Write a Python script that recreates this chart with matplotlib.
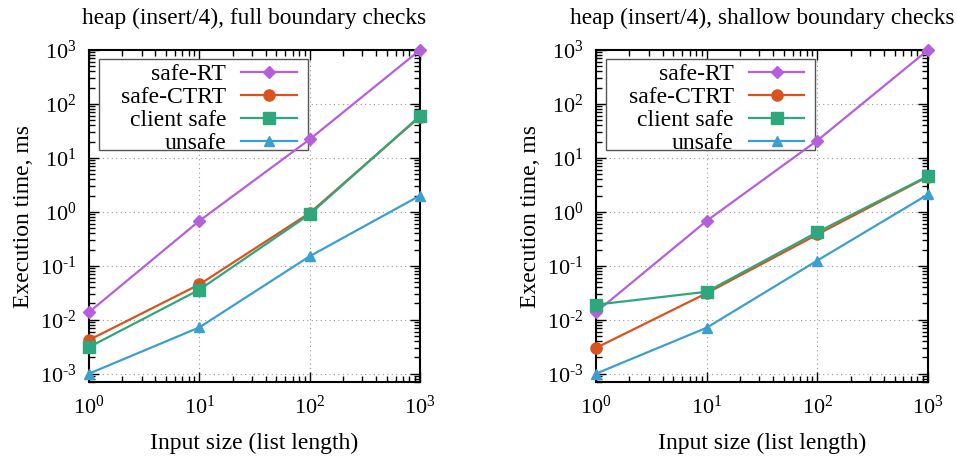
import numpy as np
import matplotlib
matplotlib.use('Agg')
import matplotlib.pyplot as plt
from matplotlib.patches import Rectangle
from matplotlib.ticker import NullFormatter, FuncFormatter

# 数据
sizes = [1, 10, 100, 1000]
series_names = ['safe-RT', 'safe-CTRT', 'client safe', 'unsafe']

full_safe_rt = [0.0138, 0.68, 22, 1000]
full_safe_ctrt = [0.0042, 0.045, 0.95, 58]
full_client_safe = [0.0031, 0.036, 0.9, 60]
full_unsafe = [0.001, 0.0072, 0.15, 2.0]

shallow_safe_rt = [0.0138, 0.68, 21, 1000]
shallow_safe_ctrt = [0.003, 0.031, 0.38, 4.5]
shallow_client_safe = [0.019, 0.033, 0.42, 4.6]
shallow_unsafe = [0.001, 0.0071, 0.125, 2.1]

titles = ['heap (insert/4), full boundary checks',
          'heap (insert/4), shallow boundary checks']

x_major = [1, 10, 100, 1000]
y_major = [1e-3, 1e-2, 1e-1, 1, 10, 100, 1000]

colors = ['#b65fdc', '#d9531e', '#2fa77d', '#3b9fd0']
markers = ['D', 'o', 's', '^']
msizes = [6, 8, 8, 7]

plt.rcParams['font.family'] = ['Liberation Serif', 'DejaVu Serif']
plt.rcParams['mathtext.fontset'] = 'custom'
plt.rcParams['mathtext.rm'] = 'Liberation Serif'
plt.rcParams['mathtext.it'] = 'Liberation Serif:italic'


def pow10(v, pos):
    k = int(round(np.log10(v)))
    if k < 0:
        return r'$10^{\text{-}%d}$' % (-k)
    return r'$10^{%d}$' % k


def minors(lo, hi):
    out = []
    for d in range(int(np.floor(np.log10(lo))), int(np.ceil(np.log10(hi)))):
        for s in range(2, 10):
            v = s * 10.0 ** d
            if lo <= v <= hi:
                out.append(v)
    return out


fig = plt.figure(figsize=(9.57, 4.59), dpi=100)
W, H = 957, 459
panels = [
    (89, 420, [full_safe_rt, full_safe_ctrt, full_client_safe, full_unsafe]),
    (596, 928, [shallow_safe_rt, shallow_safe_ctrt, shallow_client_safe, shallow_unsafe]),
]
top, bottom = 50, 382

for i, (x0, x1, data) in enumerate(panels):
    ax = fig.add_axes([x0 / W, 1 - bottom / H, (x1 - x0) / W, (bottom - top) / H])
    for vals, name, c, m, ms in zip(data, series_names, colors, markers, msizes):
        ax.plot(sizes, vals, color=c, marker=m, markersize=ms, lw=1.6,
                label=name, clip_on=False, zorder=4)
    ax.set_xscale('log')
    ax.set_yscale('log')
    ax.set_xticks(x_major)
    ax.set_yticks(y_major)
    ax.set_xticks(minors(1, 1000), minor=True)
    ax.set_yticks(minors(0.0007, 1000), minor=True)
    ax.set_xlim(1, 1000)
    ax.set_ylim(0.0007, 1000)
    ax.xaxis.set_major_formatter(FuncFormatter(pow10))
    ax.yaxis.set_major_formatter(FuncFormatter(pow10))
    ax.xaxis.set_minor_formatter(NullFormatter())
    ax.yaxis.set_minor_formatter(NullFormatter())
    ax.tick_params(which='both', direction='in', top=True, right=True, labelsize=16)
    ax.tick_params(which='major', length=7, width=1)
    ax.tick_params(which='minor', length=4, width=1)
    ax.tick_params(axis='x', pad=10)
    ax.tick_params(axis='y', pad=9)
    for s in ax.spines.values():
        s.set_linewidth(1.5)
    ax.grid(True, which='major', linestyle=(0, (1, 3)), color='#999999', lw=0.8)
    ax.set_title(titles[i], fontsize=16.8, pad=19)
    ax.set_xlabel('Input size (list length)', fontsize=17, labelpad=10)
    ax.set_ylabel('Execution time, ms', fontsize=17, labelpad=4)

    # 图例框
    ax.add_patch(Rectangle((0.030, 0.699), 0.631, 0.274, transform=ax.transAxes,
                           facecolor='white', edgecolor='#555555', lw=1.0, zorder=3))
    leg = ax.legend(loc='upper right', bbox_to_anchor=(0.628, 0.959), markerfirst=False,
                    fontsize=17, frameon=False, handlelength=2.35,
                    borderpad=0, labelspacing=0.06, handletextpad=0.65,
                    borderaxespad=0)
    leg.set_zorder(3.5)
    for t in leg.get_texts():
        t.set_ha('right')
    leg._legend_box.align = 'right'

fig.savefig('out.png', dpi=100)
